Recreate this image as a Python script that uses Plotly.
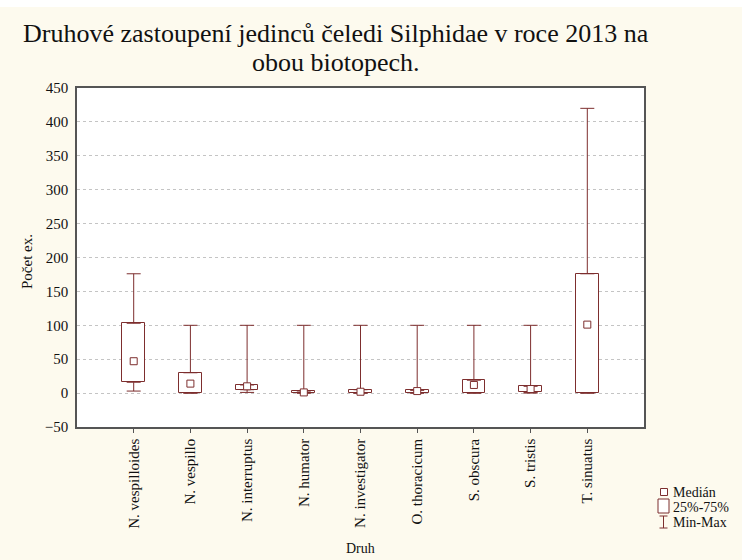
import plotly.graph_objects as go

# Species (Silphidae) and box-plot statistics of counts per sample
species = ["N. vespilloides", "N. vespillo", "N. interruptus", "N. humator",
           "N. investigator", "O. thoracicum", "S. obscura", "S. tristis",
           "T. sinuatus"]
v_min = [3, 0, 1, 0, 0, 0, 0, 0, 0]
v_q1 = [16, 0, 5, 0, 0, 0, 0, 1, 0]
v_median = [47, 14, 10, 1, 2, 3, 12, 6, 101]
v_q3 = [103, 30, 12, 3, 5, 4, 19, 10, 176]
v_max = [176, 100, 100, 100, 100, 100, 100, 100, 420]

y_ticks = [-50, 0, 50, 100, 150, 200, 250, 300, 350, 400, 450]

title_lines = ["Druhové zastoupení jedinců čeledi Silphidae v roce 2013 na",
               "obou biotopech."]

LINE = "#7d2e2e"
AXIS = "#555555"
PAPER = "#fdfaee"
FONT = "Liberation Serif, Times New Roman, serif"

W, H = 742, 560
ML, MR, MT, MB = 77, 98, 88, 133
PW, PH = W - ML - MR, H - MT - MB

pos = list(range(1, len(species) + 1))

fig = go.Figure()

# 25%-75% boxes
fig.add_trace(go.Bar(
    x=pos, y=[q3 - q1 for q1, q3 in zip(v_q1, v_q3)], base=v_q1, width=0.4,
    marker=dict(color="white", line=dict(color=LINE, width=1)),
    showlegend=False, hoverinfo="skip"))

# upper whiskers (Q3 -> max)
fig.add_trace(go.Scatter(
    x=pos, y=v_q3, mode="markers", marker=dict(size=1, color="rgba(0,0,0,0)"),
    error_y=dict(type="data", symmetric=False,
                 array=[mx - q3 for mx, q3 in zip(v_max, v_q3)],
                 arrayminus=[0] * len(pos), color=LINE, thickness=1, width=7),
    showlegend=False, hoverinfo="skip"))

# lower whiskers (min -> Q1)
fig.add_trace(go.Scatter(
    x=pos, y=v_q1, mode="markers", marker=dict(size=1, color="rgba(0,0,0,0)"),
    error_y=dict(type="data", symmetric=False, array=[0] * len(pos),
                 arrayminus=[q1 - mn for q1, mn in zip(v_q1, v_min)],
                 color=LINE, thickness=1, width=7),
    showlegend=False, hoverinfo="skip"))

# medians
fig.add_trace(go.Scatter(
    x=pos, y=v_median, mode="markers",
    marker=dict(symbol="square", size=7, color="white", line=dict(color=LINE, width=1)),
    showlegend=False, hoverinfo="skip"))


def px(x):
    return (x - ML) / PW


def py(y):
    return (H - MB - y) / PH


shapes = [
    # white strip along the top of the page
    dict(type="rect", xref="paper", yref="paper", x0=px(0), x1=px(W), y0=py(7), y1=py(0),
         fillcolor="white", line=dict(width=0), layer="below"),
    # legend: median marker
    dict(type="rect", xref="paper", yref="paper", x0=px(660.5), x1=px(667.5),
         y0=py(495.5), y1=py(488.5), fillcolor="white", line=dict(color=LINE, width=1)),
    # legend: box
    dict(type="rect", xref="paper", yref="paper", x0=px(658), x1=px(669),
         y0=py(513), y1=py(499), fillcolor="white", line=dict(color=LINE, width=1)),
    # legend: whisker
    dict(type="line", xref="paper", yref="paper", x0=px(663.5), x1=px(663.5),
         y0=py(528), y1=py(516), line=dict(color=LINE, width=1)),
    dict(type="line", xref="paper", yref="paper", x0=px(659.5), x1=px(667.5),
         y0=py(516), y1=py(516), line=dict(color=LINE, width=1)),
    dict(type="line", xref="paper", yref="paper", x0=px(659.5), x1=px(667.5),
         y0=py(528), y1=py(528), line=dict(color=LINE, width=1)),
]

legend_labels = [("Medián", 492), ("25%-75%", 507), ("Min-Max", 522)]
annotations = [
    dict(text=t, xref="paper", yref="paper", x=px(671), y=py(yy), xanchor="left",
         yanchor="middle", showarrow=False, font=dict(size=14, color="#111", family=FONT))
    for t, yy in legend_labels
]
annotations += [
    dict(text=t, xref="paper", yref="paper", x=px(336), y=py(yy), xanchor="center",
         yanchor="middle", showarrow=False, font=dict(size=26, color="#111", family=FONT))
    for t, yy in zip(title_lines, [33, 63])
]
annotations += [
    dict(text="Druh", xref="paper", yref="paper", x=px(360), y=py(548), xanchor="center",
         yanchor="middle", showarrow=False, font=dict(size=14, color="#111", family=FONT)),
    dict(text="Počet ex.", xref="paper", yref="paper", x=px(27), y=py(262), textangle=-90,
         xanchor="center", yanchor="middle", showarrow=False,
         font=dict(size=15, color="#111", family=FONT)),
]

fig.update_layout(
    width=W, height=H,
    margin=dict(l=ML, r=MR, t=MT, b=MB),
    paper_bgcolor=PAPER, plot_bgcolor="white",
    font=dict(family=FONT, size=15, color="#111"),
    xaxis=dict(range=[0, len(species) + 1], tickmode="array", tickvals=pos,
               ticktext=species, tickangle=-90, ticks="outside", ticklen=4,
               tickcolor=AXIS, showgrid=False, zeroline=False,
               showline=True, linecolor=AXIS, linewidth=1.5, mirror=True,
               tickfont=dict(size=15, family=FONT, color="#111")),
    yaxis=dict(range=[-50, 450], tickmode="array", tickvals=y_ticks,
               ticks="outside", ticklen=4, tickcolor="rgba(0,0,0,0)",
               showgrid=True, gridcolor="#c4c4c4", griddash="dot", gridwidth=1,
               zeroline=False, showline=True, linecolor=AXIS, linewidth=1.5, mirror=True,
               tickfont=dict(size=15, family=FONT, color="#111")),
    shapes=shapes, annotations=annotations,
    showlegend=False, bargap=0,
)

fig.write_html("out.html")
